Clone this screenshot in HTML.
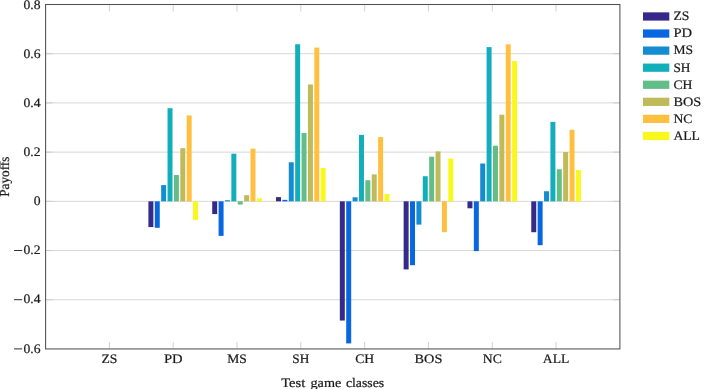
<!DOCTYPE html>
<html><head><meta charset="utf-8"><title>chart</title>
<style>
html,body{margin:0;padding:0;background:#fff;}
body{width:709px;height:389px;position:relative;overflow:hidden;font-family:"Liberation Serif",serif;}
</style></head><body>
<svg width="709" height="389" viewBox="0 0 709 389" style="position:absolute;left:0;top:0;will-change:transform">
<line x1="45.6" x2="619.9" y1="299.74" y2="299.74" stroke="#d7d7d7" stroke-width="1"/>
<line x1="45.6" x2="619.9" y1="250.54" y2="250.54" stroke="#d7d7d7" stroke-width="1"/>
<line x1="45.6" x2="619.9" y1="201.33" y2="201.33" stroke="#d7d7d7" stroke-width="1"/>
<line x1="45.6" x2="619.9" y1="152.12" y2="152.12" stroke="#d7d7d7" stroke-width="1"/>
<line x1="45.6" x2="619.9" y1="102.91" y2="102.91" stroke="#d7d7d7" stroke-width="1"/>
<line x1="45.6" x2="619.9" y1="53.71" y2="53.71" stroke="#d7d7d7" stroke-width="1"/>
<line x1="109.41" x2="109.41" y1="4.5" y2="11.5" stroke="#c6c6c6" stroke-width="0.8"/>
<line x1="109.41" x2="109.41" y1="348.95" y2="341.95" stroke="#c6c6c6" stroke-width="0.8"/>
<line x1="173.22" x2="173.22" y1="4.5" y2="11.5" stroke="#c6c6c6" stroke-width="0.8"/>
<line x1="173.22" x2="173.22" y1="348.95" y2="341.95" stroke="#c6c6c6" stroke-width="0.8"/>
<line x1="237.03" x2="237.03" y1="4.5" y2="11.5" stroke="#c6c6c6" stroke-width="0.8"/>
<line x1="237.03" x2="237.03" y1="348.95" y2="341.95" stroke="#c6c6c6" stroke-width="0.8"/>
<line x1="300.84" x2="300.84" y1="4.5" y2="11.5" stroke="#c6c6c6" stroke-width="0.8"/>
<line x1="300.84" x2="300.84" y1="348.95" y2="341.95" stroke="#c6c6c6" stroke-width="0.8"/>
<line x1="364.66" x2="364.66" y1="4.5" y2="11.5" stroke="#c6c6c6" stroke-width="0.8"/>
<line x1="364.66" x2="364.66" y1="348.95" y2="341.95" stroke="#c6c6c6" stroke-width="0.8"/>
<line x1="428.47" x2="428.47" y1="4.5" y2="11.5" stroke="#c6c6c6" stroke-width="0.8"/>
<line x1="428.47" x2="428.47" y1="348.95" y2="341.95" stroke="#c6c6c6" stroke-width="0.8"/>
<line x1="492.28" x2="492.28" y1="4.5" y2="11.5" stroke="#c6c6c6" stroke-width="0.8"/>
<line x1="492.28" x2="492.28" y1="348.95" y2="341.95" stroke="#c6c6c6" stroke-width="0.8"/>
<line x1="556.09" x2="556.09" y1="4.5" y2="11.5" stroke="#c6c6c6" stroke-width="0.8"/>
<line x1="556.09" x2="556.09" y1="348.95" y2="341.95" stroke="#c6c6c6" stroke-width="0.8"/>
<line x1="45.6" x2="52.6" y1="299.74" y2="299.74" stroke="#c6c6c6" stroke-width="0.8"/>
<line x1="619.9" x2="612.9" y1="299.74" y2="299.74" stroke="#c6c6c6" stroke-width="0.8"/>
<line x1="45.6" x2="52.6" y1="250.54" y2="250.54" stroke="#c6c6c6" stroke-width="0.8"/>
<line x1="619.9" x2="612.9" y1="250.54" y2="250.54" stroke="#c6c6c6" stroke-width="0.8"/>
<line x1="45.6" x2="52.6" y1="201.33" y2="201.33" stroke="#c6c6c6" stroke-width="0.8"/>
<line x1="619.9" x2="612.9" y1="201.33" y2="201.33" stroke="#c6c6c6" stroke-width="0.8"/>
<line x1="45.6" x2="52.6" y1="152.12" y2="152.12" stroke="#c6c6c6" stroke-width="0.8"/>
<line x1="619.9" x2="612.9" y1="152.12" y2="152.12" stroke="#c6c6c6" stroke-width="0.8"/>
<line x1="45.6" x2="52.6" y1="102.91" y2="102.91" stroke="#c6c6c6" stroke-width="0.8"/>
<line x1="619.9" x2="612.9" y1="102.91" y2="102.91" stroke="#c6c6c6" stroke-width="0.8"/>
<line x1="45.6" x2="52.6" y1="53.71" y2="53.71" stroke="#c6c6c6" stroke-width="0.8"/>
<line x1="619.9" x2="612.9" y1="53.71" y2="53.71" stroke="#c6c6c6" stroke-width="0.8"/>
<rect x="148.40" y="201.33" width="4.98" height="25.74" fill="#352a8a"/>
<rect x="154.78" y="201.33" width="4.98" height="26.45" fill="#0766e0"/>
<rect x="161.16" y="185.07" width="4.98" height="16.26" fill="#148cd2"/>
<rect x="167.54" y="108.18" width="4.98" height="93.15" fill="#12aeba"/>
<rect x="173.92" y="175.00" width="4.98" height="26.33" fill="#62be86"/>
<rect x="180.31" y="148.18" width="4.98" height="53.14" fill="#bfba5a"/>
<rect x="186.69" y="115.46" width="4.98" height="85.87" fill="#fec03e"/>
<rect x="193.07" y="201.33" width="4.98" height="18.75" fill="#f8f81c"/>
<rect x="212.21" y="201.33" width="4.98" height="12.74" fill="#352a8a"/>
<rect x="218.59" y="201.33" width="4.98" height="34.54" fill="#0766e0"/>
<rect x="224.97" y="200.22" width="4.98" height="1.11" fill="#148cd2"/>
<rect x="231.35" y="153.67" width="4.98" height="47.66" fill="#12aeba"/>
<rect x="237.74" y="201.33" width="4.98" height="3.20" fill="#62be86"/>
<rect x="244.12" y="195.18" width="4.98" height="6.15" fill="#bfba5a"/>
<rect x="250.50" y="148.68" width="4.98" height="52.65" fill="#fec03e"/>
<rect x="256.88" y="198.38" width="4.98" height="2.95" fill="#f8f81c"/>
<rect x="276.02" y="197.12" width="4.98" height="4.21" fill="#352a8a"/>
<rect x="282.40" y="199.85" width="4.98" height="1.48" fill="#0766e0"/>
<rect x="288.78" y="162.26" width="4.98" height="39.07" fill="#148cd2"/>
<rect x="295.17" y="44.23" width="4.98" height="157.09" fill="#12aeba"/>
<rect x="301.55" y="133.05" width="4.98" height="68.27" fill="#62be86"/>
<rect x="307.93" y="84.46" width="4.98" height="116.87" fill="#bfba5a"/>
<rect x="314.31" y="47.56" width="4.98" height="153.77" fill="#fec03e"/>
<rect x="320.69" y="167.97" width="4.98" height="33.36" fill="#f8f81c"/>
<rect x="339.83" y="201.33" width="4.98" height="119.20" fill="#352a8a"/>
<rect x="346.21" y="201.33" width="4.98" height="142.09" fill="#0766e0"/>
<rect x="352.60" y="197.29" width="4.98" height="4.03" fill="#148cd2"/>
<rect x="358.98" y="134.90" width="4.98" height="66.43" fill="#12aeba"/>
<rect x="365.36" y="180.24" width="4.98" height="21.09" fill="#62be86"/>
<rect x="371.74" y="174.39" width="4.98" height="26.94" fill="#bfba5a"/>
<rect x="378.12" y="137.11" width="4.98" height="64.22" fill="#fec03e"/>
<rect x="384.50" y="194.00" width="4.98" height="7.33" fill="#f8f81c"/>
<rect x="403.64" y="201.33" width="4.98" height="68.10" fill="#352a8a"/>
<rect x="410.03" y="201.33" width="4.98" height="63.87" fill="#0766e0"/>
<rect x="416.41" y="201.33" width="4.98" height="23.27" fill="#148cd2"/>
<rect x="422.79" y="176.23" width="4.98" height="25.10" fill="#12aeba"/>
<rect x="429.17" y="156.70" width="4.98" height="44.63" fill="#62be86"/>
<rect x="435.55" y="151.38" width="4.98" height="49.95" fill="#bfba5a"/>
<rect x="441.93" y="201.33" width="4.98" height="30.88" fill="#fec03e"/>
<rect x="448.31" y="158.54" width="4.98" height="42.79" fill="#f8f81c"/>
<rect x="467.46" y="201.33" width="4.98" height="6.96" fill="#352a8a"/>
<rect x="473.84" y="201.33" width="4.98" height="49.75" fill="#0766e0"/>
<rect x="480.22" y="163.51" width="4.98" height="37.82" fill="#148cd2"/>
<rect x="486.60" y="47.11" width="4.98" height="154.22" fill="#12aeba"/>
<rect x="492.98" y="145.70" width="4.98" height="55.63" fill="#62be86"/>
<rect x="499.36" y="114.72" width="4.98" height="86.60" fill="#bfba5a"/>
<rect x="505.74" y="44.36" width="4.98" height="156.97" fill="#fec03e"/>
<rect x="512.12" y="61.04" width="4.98" height="140.29" fill="#f8f81c"/>
<rect x="531.27" y="201.33" width="4.98" height="30.88" fill="#352a8a"/>
<rect x="537.65" y="201.33" width="4.98" height="43.89" fill="#0766e0"/>
<rect x="544.03" y="191.24" width="4.98" height="10.09" fill="#148cd2"/>
<rect x="550.41" y="121.86" width="4.98" height="79.47" fill="#12aeba"/>
<rect x="556.79" y="169.25" width="4.98" height="32.08" fill="#62be86"/>
<rect x="563.17" y="152.05" width="4.98" height="49.28" fill="#bfba5a"/>
<rect x="569.55" y="129.73" width="4.98" height="71.60" fill="#fec03e"/>
<rect x="575.93" y="170.16" width="4.98" height="31.17" fill="#f8f81c"/>
<rect x="45.6" y="4.5" width="574.30" height="344.45" fill="none" stroke="#505050" stroke-width="1.05"/>
<rect x="643.0" y="12.35" width="26.3" height="8.25" fill="#352a8a"/>
<rect x="643.0" y="29.42" width="26.3" height="8.25" fill="#0766e0"/>
<rect x="643.0" y="46.49" width="26.3" height="8.25" fill="#148cd2"/>
<rect x="643.0" y="63.56" width="26.3" height="8.25" fill="#12aeba"/>
<rect x="643.0" y="80.63" width="26.3" height="8.25" fill="#62be86"/>
<rect x="643.0" y="97.70" width="26.3" height="8.25" fill="#bfba5a"/>
<rect x="643.0" y="114.77" width="26.3" height="8.25" fill="#fec03e"/>
<rect x="643.0" y="131.84" width="26.3" height="8.25" fill="#f8f81c"/>
<g font-family="Liberation Serif, serif" fill="#1a1a1a" stroke="#1a1a1a" stroke-width="0.22" text-rendering="geometricPrecision"><text transform="translate(40.60,352.50) scale(1.05,1)" text-anchor="end" font-size="13.0" >0.6</text>
<line x1="14.1" x2="22.2" y1="348.90" y2="348.90" stroke="#222" stroke-width="0.95"/>
<text transform="translate(40.60,303.29) scale(1.05,1)" text-anchor="end" font-size="13.0" >0.4</text>
<line x1="14.1" x2="22.2" y1="299.69" y2="299.69" stroke="#222" stroke-width="0.95"/>
<text transform="translate(40.60,254.09) scale(1.05,1)" text-anchor="end" font-size="13.0" >0.2</text>
<line x1="14.1" x2="22.2" y1="250.49" y2="250.49" stroke="#222" stroke-width="0.95"/>
<text transform="translate(40.60,205.43) scale(1.05,1)" text-anchor="end" font-size="13.0" >0</text>
<text transform="translate(40.60,156.22) scale(1.05,1)" text-anchor="end" font-size="13.0" >0.2</text>
<text transform="translate(40.60,107.01) scale(1.05,1)" text-anchor="end" font-size="13.0" >0.4</text>
<text transform="translate(40.60,57.81) scale(1.05,1)" text-anchor="end" font-size="13.0" >0.6</text>
<text transform="translate(40.60,8.60) scale(1.05,1)" text-anchor="end" font-size="13.0" >0.8</text>
<text transform="translate(109.41,362.85) scale(1.05,1)" text-anchor="middle" font-size="13.0" >ZS</text>
<text transform="translate(673.40,20.35) scale(1.05,1)" text-anchor="start" font-size="13.0" >ZS</text>
<text transform="translate(173.22,362.85) scale(1.12,1)" text-anchor="middle" font-size="13.0" >PD</text>
<text transform="translate(673.40,37.42) scale(1.12,1)" text-anchor="start" font-size="13.0" >PD</text>
<text transform="translate(237.03,362.85) scale(1.04,1)" text-anchor="middle" font-size="13.0" >MS</text>
<text transform="translate(673.40,54.49) scale(1.04,1)" text-anchor="start" font-size="13.0" >MS</text>
<text transform="translate(300.84,362.85) scale(1.02,1)" text-anchor="middle" font-size="13.0" >SH</text>
<text transform="translate(673.40,71.56) scale(1.02,1)" text-anchor="start" font-size="13.0" >SH</text>
<text transform="translate(364.66,362.85) scale(1.05,1)" text-anchor="middle" font-size="13.0" >CH</text>
<text transform="translate(673.40,88.63) scale(1.05,1)" text-anchor="start" font-size="13.0" >CH</text>
<text transform="translate(428.47,362.85) scale(1.1,1)" text-anchor="middle" font-size="13.0" >BOS</text>
<text transform="translate(673.40,105.70) scale(1.1,1)" text-anchor="start" font-size="13.0" >BOS</text>
<text transform="translate(492.28,362.85) scale(1.05,1)" text-anchor="middle" font-size="13.0" >NC</text>
<text transform="translate(673.40,122.77) scale(1.05,1)" text-anchor="start" font-size="13.0" >NC</text>
<text transform="translate(556.09,362.85) scale(1.05,1)" text-anchor="middle" font-size="13.0" >ALL</text>
<text transform="translate(673.40,139.84) scale(1.05,1)" text-anchor="start" font-size="13.0" >ALL</text>
<text transform="translate(281.20,386.90) scale(1,1)" text-anchor="start" font-size="13.0" textLength="24.2" lengthAdjust="spacingAndGlyphs">Test</text>
<text transform="translate(310.50,386.90) scale(1,1)" text-anchor="start" font-size="13.0" textLength="30.8" lengthAdjust="spacingAndGlyphs">game</text>
<text transform="translate(345.90,386.90) scale(1,1)" text-anchor="start" font-size="13.0" textLength="38.3" lengthAdjust="spacingAndGlyphs">classes</text>
<text x="0" y="0" text-anchor="middle" font-size="13.7" textLength="40.3" lengthAdjust="spacingAndGlyphs" transform="translate(9.1,176.72) rotate(-90)">Payoffs</text></g>
</svg>
</body></html>
